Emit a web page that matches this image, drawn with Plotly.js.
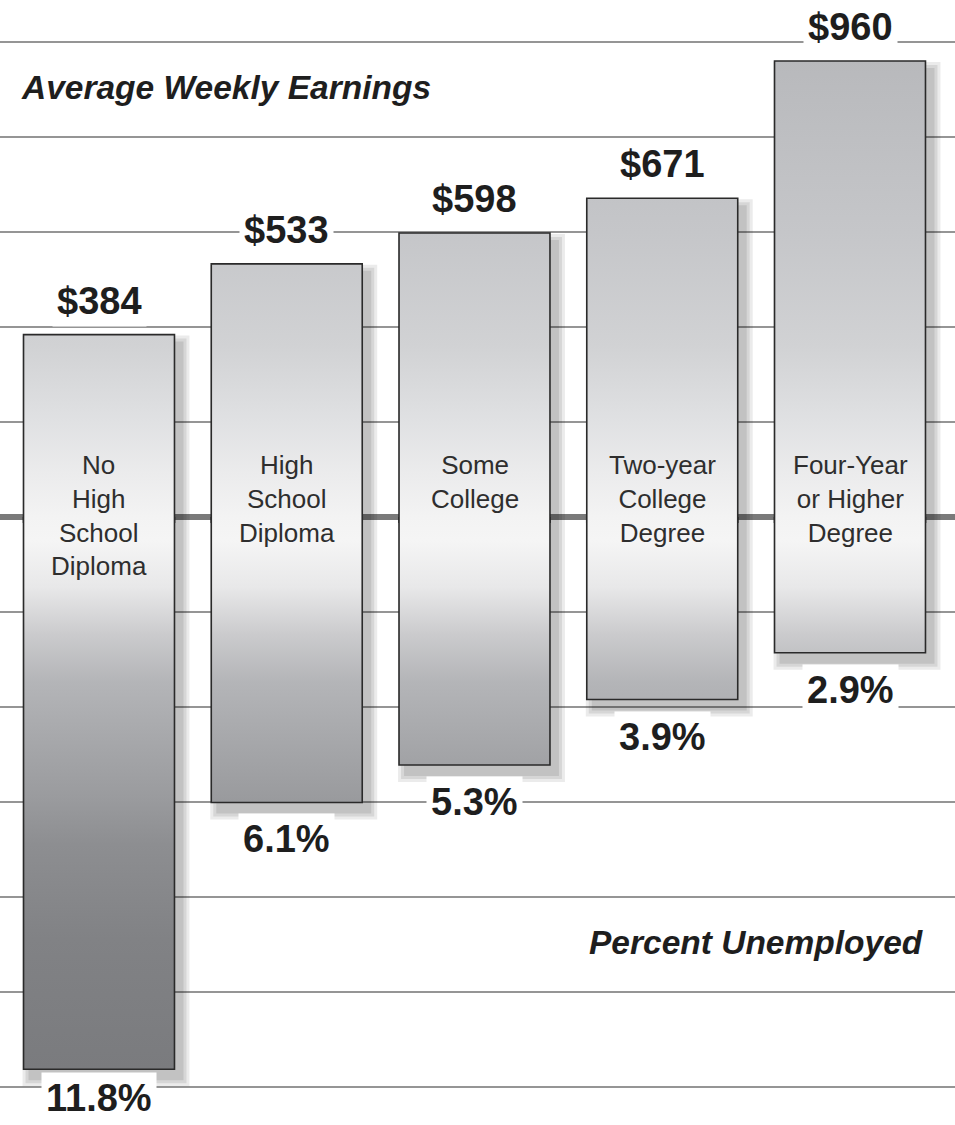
<!DOCTYPE html>
<html>
<head>
<meta charset="utf-8">
<script src="https://cdn.plot.ly/plotly-3.0.1.min.js"></script>
<style>
  html, body { margin: 0; padding: 0; background: #ffffff; }
  #chart { width: 955px; height: 1125px; }
</style>
</head>
<body>
<div id="chart"></div>
<script>
// ---------------- DATA ----------------
const categories = [
  "No<br>High<br>School<br>Diploma",
  "High<br>School<br>Diploma",
  "Some<br>College",
  "Two-year<br>College<br>Degree",
  "Four-Year<br>or Higher<br>Degree"
];
const earnings = [384, 533, 598, 671, 960];            // average weekly earnings, $
const earningsLabels = ["$384", "$533", "$598", "$671", "$960"];
const unemployment = [11.8, 6.1, 5.3, 3.9, 2.9];        // percent unemployed
const unemploymentLabels = ["11.8%", "6.1%", "5.3%", "3.9%", "2.9%"];
const earningsTitle = "Average Weekly Earnings";
const unemploymentTitle = "Percent Unemployed";

// ---------------- LAYOUT CONSTANTS ----------------
const W = 955, H = 1125;
const ZERO_PX = 517;          // pixel row of the centre line
const GRID_PX = 95;           // pixels between grid lines
const DOLLAR_STEP = 200;      // $ per grid spacing (upper scale)
const PCT_STEP = 2.03;        // % per grid spacing (lower scale)
const X_PX = 187.75;          // pixels per category
const FIRST_PX = 99;          // pixel centre of first bar
const HALF_W = 0.402;         // half bar width (category units)
const TOP_LABEL_SHIFT = 34;   // px above bar top
const BOTTOM_LABEL_SHIFT = 37; // px below bar bottom
const BOTTOM_LABEL_MAX_PX = H - 27;

const xRange = [-FIRST_PX / X_PX, (W - FIRST_PX) / X_PX];
const yRange = [-(H - ZERO_PX) / GRID_PX * DOLLAR_STEP, ZERO_PX / GRID_PX * DOLLAR_STEP];
const y2Range = [(H - ZERO_PX) / GRID_PX * PCT_STEP, -ZERO_PX / GRID_PX * PCT_STEP];

const dxPx = 1 / X_PX;                    // x units per pixel
const dyPxE = DOLLAR_STEP / GRID_PX;      // $ per pixel
const dyPxP = PCT_STEP / GRID_PX;         // % per pixel

const upperGradient = {
  type: 'vertical', start: 0, stop: 960,
  colorscale: [
    [0.00, '#f3f3f3'], [0.10, '#ebebec'], [0.21, '#e0e1e3'],
    [0.375, '#d1d2d4'], [0.625, '#c5c6c9'], [1.00, '#b8b9bc']
  ]
};
const lowerGradient = {
  type: 'vertical', start: 11.8, stop: 0,
  colorscale: [
    [0.00, '#7a7b7e'], [0.237, '#818285'], [0.407, '#8d8e91'],
    [0.492, '#9a9b9e'], [0.576, '#a4a5a8'], [0.703, '#b4b5b8'],
    [0.788, '#cbcbcd'], [0.873, '#e8e8e9'], [0.958, '#f5f5f5'], [1.00, '#f3f3f3']
  ]
};

const traces = [];

// shadows
const shadowLayers = [{s: 8, a: 0.08}, {s: 5, a: 0.085}, {s: 2, a: 0.09}];
const SH_OX = 7, SH_OY = 9;
categories.forEach((c, i) => {
  shadowLayers.forEach(L => {
    const x0 = i - HALF_W + (SH_OX - L.s) * dxPx;
    const x1 = i + HALF_W + (SH_OX + L.s) * dxPx;
    const top = earnings[i] - (SH_OY - L.s) * dyPxE;
    const bot = unemployment[i] + (SH_OY + L.s) * dyPxP;
    traces.push({
      type: 'scatter', mode: 'lines', x: [x0, x0, x1, x1], y: [0, top, top, 0],
      fill: 'toself', fillcolor: `rgba(0,0,0,${L.a})`, line: {width: 0},
      hoverinfo: 'skip', yaxis: 'y'
    });
    traces.push({
      type: 'scatter', mode: 'lines', x: [x0, x0, x1, x1], y: [0, bot, bot, 0],
      fill: 'toself', fillcolor: `rgba(0,0,0,${L.a})`, line: {width: 0},
      hoverinfo: 'skip', yaxis: 'y2'
    });
  });
});

// bars: upper half (earnings axis) and lower half (unemployment axis)
const EPS = -6 * dyPxE;
categories.forEach((c, i) => {
  const x0 = i - HALF_W, x1 = i + HALF_W;
  traces.push({
    type: 'scatter', mode: 'lines',
    x: [x0, x0, x1, x1], y: [EPS, earnings[i], earnings[i], EPS],
    fill: 'toself', fillgradient: upperGradient,
    line: {color: '#2a2a2a', width: 1.6}, hoverinfo: 'skip', yaxis: 'y'
  });
  traces.push({
    type: 'scatter', mode: 'lines',
    x: [x0, x0, x1, x1], y: [0, unemployment[i], unemployment[i], 0],
    fill: 'toself', fillgradient: lowerGradient,
    line: {color: '#2a2a2a', width: 1.6}, hoverinfo: 'skip', yaxis: 'y2'
  });
});

const valueFont = {family: 'Liberation Sans, Arial, sans-serif', size: 38, color: '#1e1e1e', weight: 700};
const annotations = [];
categories.forEach((c, i) => {
  annotations.push({
    xref: 'x', yref: 'y', x: i, y: earnings[i], text: earningsLabels[i],
    showarrow: false, xanchor: 'center', yanchor: 'middle', yshift: TOP_LABEL_SHIFT,
    font: valueFont, bgcolor: '#ffffff', borderpad: 4
  });
  // keep the lowest label inside the picture
  const barBottomPx = ZERO_PX + unemployment[i] / dyPxP;
  const shift = Math.min(BOTTOM_LABEL_SHIFT, BOTTOM_LABEL_MAX_PX - barBottomPx);
  annotations.push({
    xref: 'x', yref: 'y2', x: i, y: unemployment[i], text: unemploymentLabels[i],
    showarrow: false, xanchor: 'center', yanchor: 'middle', yshift: -shift,
    font: valueFont, bgcolor: '#ffffff', borderpad: 4
  });
  annotations.push({
    xref: 'x', yref: 'y', x: i, y: 146, text: c,
    showarrow: false, xanchor: 'center', yanchor: 'top', align: 'center',
    font: {family: 'Liberation Sans, Arial, sans-serif', size: 26, color: '#2e2e2e'}
  });
});
const titleFont = {family: 'Liberation Sans, Arial, sans-serif', size: 33.5, color: '#1e1e1e', weight: 700, style: 'italic'};
annotations.push({
  xref: 'paper', yref: 'paper', x: 19 / W, y: 1 - 88 / H, text: earningsTitle,
  showarrow: false, xanchor: 'left', yanchor: 'middle', font: titleFont
});
annotations.push({
  xref: 'paper', yref: 'paper', x: 926 / W, y: 1 - 942 / H, text: unemploymentTitle,
  showarrow: false, xanchor: 'right', yanchor: 'middle', font: titleFont
});

const layout = {
  width: W, height: H,
  margin: {l: 0, r: 0, t: 0, b: 0, pad: 0},
  paper_bgcolor: '#ffffff', plot_bgcolor: '#ffffff',
  showlegend: false,
  xaxis: {range: xRange, showgrid: false, zeroline: false, showticklabels: false, ticks: '', showline: false, fixedrange: true},
  yaxis: {
    range: yRange, tick0: 0, dtick: DOLLAR_STEP, showgrid: true, gridcolor: '#959595', gridwidth: 2,
    zeroline: true, zerolinecolor: '#7a7a7a', zerolinewidth: 6,
    showticklabels: false, ticks: '', showline: false, fixedrange: true
  },
  yaxis2: {
    range: y2Range, overlaying: 'y', showgrid: false, zeroline: false,
    showticklabels: false, ticks: '', showline: false, fixedrange: true
  },
  annotations: annotations
};

Plotly.newPlot('chart', traces, layout, {staticPlot: true, displayModeBar: false});
</script>
</body>
</html>
